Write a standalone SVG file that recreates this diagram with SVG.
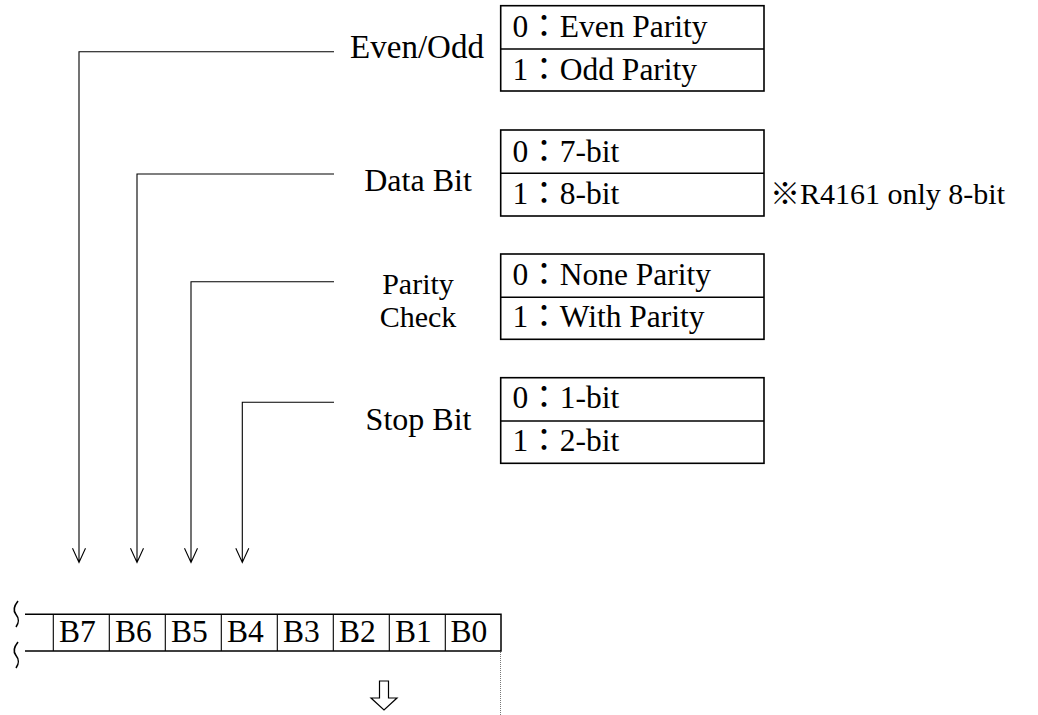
<svg xmlns="http://www.w3.org/2000/svg" width="1038" height="715" viewBox="0 0 1038 715">
<style>
text{font-family:"Liberation Serif","Noto Sans CJK TC",serif;fill:#000}
.lbl{font-size:32px;text-anchor:middle}
.opt{font-size:31.5px}
.box{fill:#fff;stroke:#000;stroke-width:1.6}
.conn{fill:none;stroke:#000;stroke-width:1.1}
.reg{fill:none;stroke:#000;stroke-width:1.5}
.sq{fill:none;stroke:#000;stroke-width:1.6}
.cell{font-size:31.5px}
</style>
<rect width="1038" height="715" fill="#fff"/>
<g id="connectors">
<path class="conn" d="M334,51.7H79V562.5M72.5,548.3L79,562.5L85.5,548.3"/>
<path class="conn" d="M334,174H137V562.5M130.5,548.3L137,562.5L143.5,548.3"/>
<path class="conn" d="M334,281.7H191V562.5M184.5,548.3L191,562.5L197.5,548.3"/>
<path class="conn" d="M334,402.3H242.3V562.5M235.8,548.3L242.3,562.5L248.8,548.3"/>
</g>
<g id="even-odd">
<text class="lbl" x="417" y="58.3" style="font-size:33px">Even/Odd</text>
<rect class="box" x="500.7" y="5.7" width="263.3" height="85.3"/>
<line class="box" x1="500.7" y1="49" x2="764" y2="49"/>
<text class="opt" x="512.5" y="37.3">0：Even Parity</text>
<text class="opt" x="512.5" y="80">1：Odd Parity</text>
</g>
<g id="data-bit">
<text class="lbl" x="418" y="190.7">Data Bit</text>
<rect class="box" x="500.7" y="130" width="263.3" height="86"/>
<line class="box" x1="500.7" y1="173.3" x2="764" y2="173.3"/>
<text class="opt" x="512.5" y="161.7">0：7-bit</text>
<text class="opt" x="512.5" y="204">1：8-bit</text>
<text class="opt" x="770" y="203.5" style="font-size:30px">※R4161 only 8-bit</text>
</g>
<g id="parity-check">
<text class="lbl" x="418" y="293.5" style="font-size:30px">Parity</text>
<text class="lbl" x="418" y="327" style="font-size:30px">Check</text>
<rect class="box" x="500.7" y="254" width="263.3" height="85.3"/>
<line class="box" x1="500.7" y1="297.3" x2="764" y2="297.3"/>
<text class="opt" x="512.5" y="285">0：None Parity</text>
<text class="opt" x="512.5" y="327.3">1：With Parity</text>
</g>
<g id="stop-bit">
<text class="lbl" x="418.5" y="430">Stop Bit</text>
<rect class="box" x="500.7" y="377.7" width="263.3" height="85.6"/>
<line class="box" x1="500.7" y1="421" x2="764" y2="421"/>
<text class="opt" x="512.5" y="408.3">0：1-bit</text>
<text class="opt" x="512.5" y="450.7">1：2-bit</text>
</g>
<g id="register">
<path class="reg" d="M25,614.3H501V651H25"/>
<path class="sq" d="M18,601C14,606 13,611 16,614.5C19,618 19,623 16,627"/>
<path class="sq" d="M18,642C14,647 13,652 16,655.5C19,659 19,664 16,668"/>
<path class="conn" d="M53.3,614V651M109.3,614V651M165.3,614V651M221.3,614V651M277.3,614V651M333.3,614V651M389.3,614V651M445.3,614V651"/>
<text class="cell" x="59" y="642.3">B7</text>
<text class="cell" x="115" y="642.3">B6</text>
<text class="cell" x="171" y="642.3">B5</text>
<text class="cell" x="227" y="642.3">B4</text>
<text class="cell" x="283" y="642.3">B3</text>
<text class="cell" x="339" y="642.3">B2</text>
<text class="cell" x="395" y="642.3">B1</text>
<text class="cell" x="450.5" y="642.3">B0</text>
<line x1="500.5" y1="652" x2="500.5" y2="715" stroke="#777" stroke-width="1" stroke-dasharray="1,1"/>
</g>
<g id="down-arrow">
<polygon points="379.5,681 388.5,681 388.5,698 397,698 384,710 371,698 379.5,698" fill="#fff" stroke="#000" stroke-width="1.2"/>
</g>
</svg>
